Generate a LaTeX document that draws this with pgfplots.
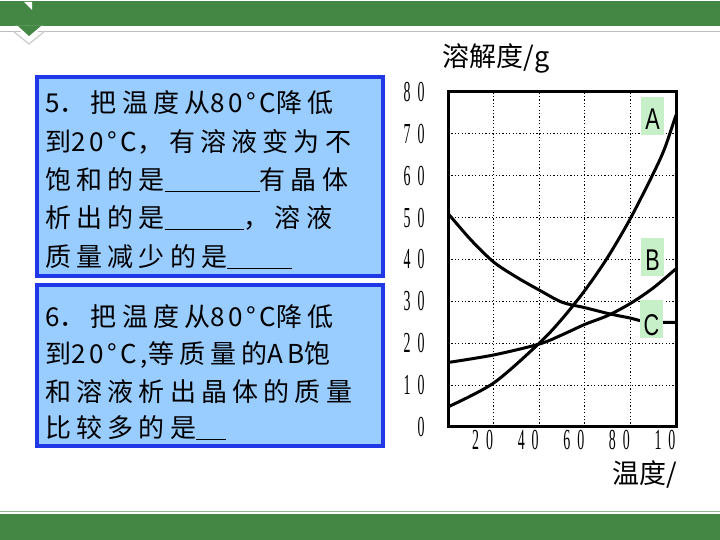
\documentclass[border=0pt]{standalone}
\usepackage{pgfplots}
\pgfplotsset{compat=1.18}
\usepackage{graphicx}
\usepackage{fontspec}
\newfontfamily\cjk[LetterSpace=20]{Noto Sans CJK SC}
\newfontfamily\lt[LetterSpace=14]{Noto Sans CJK SC}
\newfontfamily\cjkplain{Noto Sans CJK SC}
\newfontfamily\tickfont{Liberation Serif}
\newfontfamily\letfont{Liberation Sans}
\definecolor{band}{HTML}{448744}
\definecolor{boxfill}{HTML}{99CCFF}
\definecolor{boxedge}{HTML}{2038E6}
\definecolor{lblgreen}{HTML}{C8F0C8}
\newcommand\tl[1]{\scalebox{0.48}[1]{\tickfont\fontsize{29bp}{29bp}\selectfont #1}}
\newcommand\hs{\hspace{0.5em}}
\newcommand\blank[1]{\rule[-3bp]{#1bp}{1.1bp}}
\newcommand\lbl[1]{\scalebox{0.72}[1]{\letfont\fontsize{30bp}{30bp}\selectfont #1}}
\newcommand\la[1]{{\lt\fontsize{26bp}{26bp}\selectfont #1}}
\begin{document}
\begin{tikzpicture}[x=1bp,y=1bp]
\useasboundingbox (0,0) rectangle (720,540);
\fill[white] (0,0) rectangle (720,540);
% top band
\fill[band] (0,514) rectangle (720,539);
\draw[black!25, line width=1bp] (0,508) -- (720,508);
\draw[black!20, line width=1.2bp] (13,509) -- (29,496) -- (45,509);
\fill[white] (15,514) -- (29,501) -- (44,514) -- cycle;
\fill[band] (18,514) -- (29,504) -- (41,514) -- cycle;
\fill[white] (24,538) -- (32,538) -- (32,530) -- (29,533) -- cycle;
% bottom band
\draw[band!60, line width=1bp] (0,28) -- (720,28);
\fill[band] (0,0) rectangle (720,26);
% question boxes
\draw[boxedge, fill=boxfill, line width=4bp] (37,463) rectangle (383,264);
\draw[boxedge, fill=boxfill, line width=4bp] (37,255) rectangle (383,94);
\begin{scope}[every node/.style={anchor=west, inner sep=0pt, font=\cjk\fontsize{26bp}{26bp}\selectfont}]
\node at (45,437) {\la{5}．把温度从\la{80°C}降低};
\node at (45,398) {到\la{20°C}，\hspace{6bp}有溶液变为不};
\node at (45,360) {饱和的是\blank{95}有晶体};
\node at (45,322) {析出的是\blank{79}，溶液};
\node at (45,283) {质量减少的是\blank{65}};
\node at (45,223) {\la{6}．把温度从\la{80°C}降低};
\node at (45,185) {到\la{20°C,}等质量的\la{AB}饱};
\node at (45,148) {和溶液析出晶体的质量};
\node at (45,112) {比较多的是\blank{30}};
\end{scope}
% chart
\begin{axis}[
  at={(448bp,113bp)}, anchor=south west, scale only axis,
  width=228bp, height=335bp,
  xmin=0, xmax=100, ymin=0, ymax=80,
  xtick={20,40,60,80,100}, ytick={0,10,20,30,40,50,60,70,80},
  xticklabels={\tl{2\hs0},\tl{4\hs0},\tl{6\hs0},\tl{8\hs0},\tl{1\hs0}},
  yticklabels={\raisebox{-6bp}{\tl{0}},\tl{1\hs0},\tl{2\hs0},\tl{3\hs0},\tl{4\hs0},\tl{5\hs0},\tl{6\hs0},\tl{7\hs0},\raisebox{-6bp}{\tl{8\hs0}}},
  xticklabel style={xshift=-11bp},
  yticklabel style={xshift=-20bp},
  major tick length=0pt,
  grid=major,
  grid style={black, line width=1.1bp, dash pattern=on 1.1bp off 2.3bp},
  axis line style={line width=3bp, black},
]
\addplot[black, line width=3bp, smooth, no markers, line cap=round] coordinates {(0,4.8) (20,10.5) (40,20) (50,25.8) (60,32.6) (70,40.5) (80,49.8) (90,60.5) (95,66.5) (100,74.5)};
\addplot[black, line width=3bp, smooth, no markers, line cap=round] coordinates {(0,15.4) (20,17.2) (40,19.8) (50,22) (60,24.5) (70,26.6) (80,29.5) (90,33.2) (100,37.8)};
\addplot[black, line width=3bp, smooth, no markers, line cap=round] coordinates {(0,51) (10,44.7) (20,39.4) (30,35.8) (40,32.7) (50,29.8) (60,28.5) (71,27) (80,26) (85,25.3) (90,25) (100,25)};
\end{axis}
% curve labels
\fill[lblgreen] (641,443) rectangle (664,405);
\fill[lblgreen] (641,302) rectangle (664,264);
\fill[lblgreen] (640,240) rectangle (663,202);
\node[inner sep=0pt] at (652.5,421) {\lbl{A}};
\node[inner sep=0pt] at (652.5,280) {\lbl{B}};
\node[inner sep=0pt] at (651.5,215) {\lbl{C}};
% axis titles
\node[inner sep=0pt] at (496,482) {\cjkplain\fontsize{27bp}{27bp}\selectfont 溶解度/g};
\node[inner sep=0pt] at (645,65) {\cjkplain\fontsize{27bp}{27bp}\selectfont 温度/};
\end{tikzpicture}
\end{document}
